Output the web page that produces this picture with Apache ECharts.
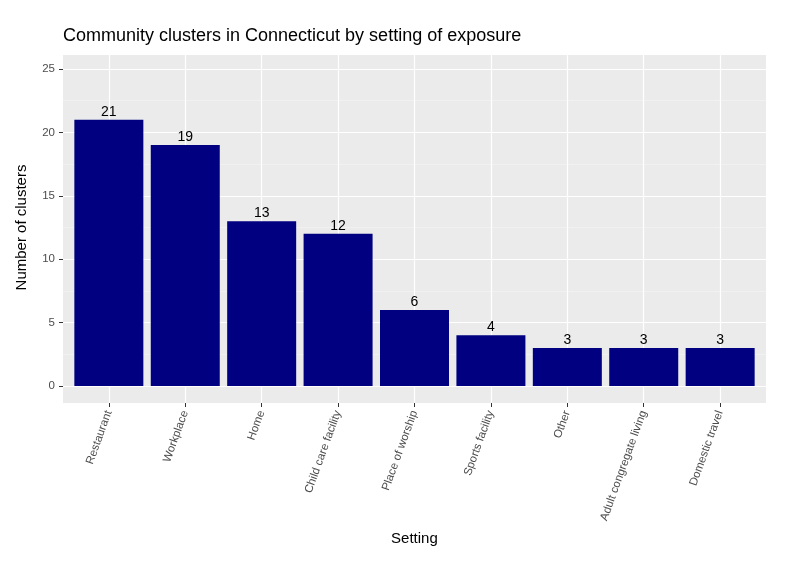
<!DOCTYPE html><html><head><meta charset="utf-8">
<script src="https://cdn.jsdelivr.net/npm/echarts@6/dist/echarts.min.js"></script>
<style>body{margin:0}#c{width:800px;height:566px}</style></head><body><div id="c"></div>
<script>
const categories=["Restaurant","Workplace","Home","Child care facility","Place of worship","Sports facility","Other","Adult congregate living","Domestic travel"];
const values=[21,19,13,12,6,4,3,3,3];
const yTicks=[0,5,10,15,20,25];
const c=echarts.init(document.getElementById('c'));
const f='Liberation Sans, Arial, sans-serif';
c.setOption({
 animation:false,
 title:{text:'Community clusters in Connecticut by setting of exposure',left:58,top:22,textStyle:{fontFamily:f,fontSize:18,fontWeight:'normal',color:'#000'}},
 grid:[
  {left:63,right:34,top:55,bottom:163,show:true,backgroundColor:'#EBEBEB',borderWidth:0,z:0},
  {left:108.8,right:80,top:55,bottom:163},
  {left:63,right:34,top:69,bottom:180}
 ],
 xAxis:[
  {gridIndex:0,type:'value',min:0,max:1,show:false},
  {gridIndex:1,type:'category',data:categories,boundaryGap:false,
   axisLine:{show:false},axisTick:{show:true,length:4,lineStyle:{color:'#333'}},
   axisLabel:{rotate:70,color:'#4D4D4D',fontFamily:f,fontSize:11.5,margin:8,interval:0},
   splitLine:{show:true,lineStyle:{color:'#fff',width:1.2}},
   name:'Setting',nameLocation:'middle',nameGap:128,nameTextStyle:{fontFamily:f,fontSize:15,color:'#000'}},
  {gridIndex:2,type:'value',min:0.4,max:9.6,show:false}
 ],
 yAxis:[
  {gridIndex:0,type:'value',show:false,min:0,max:1},
  {gridIndex:1,type:'value',show:false,min:0,max:1},
  {gridIndex:2,type:'value',min:0,max:25,interval:5,
   axisLine:{show:false},axisTick:{show:true,length:4,lineStyle:{color:'#333'}},
   axisLabel:{color:'#4D4D4D',fontFamily:f,fontSize:11.5,formatter:v=>yTicks.includes(v)?String(v):''},
   splitLine:{lineStyle:{color:'#fff',width:1.2}},
   minorTick:{show:false,splitNumber:2},minorSplitLine:{show:true,lineStyle:{color:'#F5F5F5',width:0.6}},
   name:'Number of clusters',nameLocation:'middle',nameGap:34,nameTextStyle:{fontFamily:f,fontSize:15,color:'#000'}}
 ],
 series:[{type:'bar',xAxisIndex:2,yAxisIndex:2,barWidth:69,
  data:values.map((v,i)=>[i+1,v]),itemStyle:{color:'#000080'},
  label:{show:true,position:'top',distance:1,color:'#000',fontFamily:f,fontSize:14,formatter:p=>p.value[1]}}]
});
</script></body></html>
